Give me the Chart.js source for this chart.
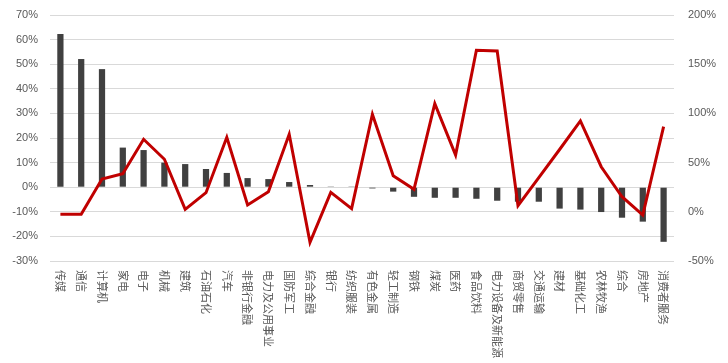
<!DOCTYPE html>
<html>
<head>
<meta charset="utf-8">
<script src="https://cdn.jsdelivr.net/npm/chart.js@4/dist/chart.umd.min.js"></script>
<style>
  html, body { margin: 0; padding: 0; background: #fff; }
  #wrap { width: 728px; height: 363px; }
</style>
</head>
<body>
<div id="wrap"><canvas id="chart" width="728" height="363"></canvas></div>
<script>
const CATEGORIES = [
  '传媒', '通信', '计算机', '家电', '电子', '机械', '建筑', '石油石化', '汽车', '非银行金融',
  '电力及公用事业', '国防军工', '综合金融', '银行', '纺织服装', '有色金属', '轻工制造', '钢铁', '煤炭', '医药',
  '食品饮料', '电力设备及新能源', '商贸零售', '交通运输', '建材', '基础化工', '农林牧渔', '综合', '房地产', '消费者服务',
];

// left axis, %
const BAR_VALUES = [
  62.3, 52.1, 48.0, 16.1, 15.1, 10.0, 9.4, 7.4, 5.8, 3.7,
  3.3, 2.1, 0.9, 0.1, 0.1, -0.5, -1.8, -3.9, -4.3, -4.3,
  -4.7, -5.5, -5.9, -5.9, -8.7, -9.1, -10.1, -12.4, -14.0, -22.2,
];

// right axis, %
const LINE_VALUES = [
  -2.5, -2.5, 33.3, 38.7, 73.7, 53.4, 2.5, 19.4, 75.7, 6.9,
  20.4, 78.8, -31.0, 19.8, 3.2, 99.1, 36.7, 22.9, 109.9, 57.7,
  164.1, 163.4, 6.2, 34.8, 63.3, 92.3, 45.8, 15.3, -3.3, 86.5,
];

const TEXT_COLOR = '#595959';
const FONT_FAMILY = '"Liberation Sans", "Noto Sans CJK SC", sans-serif';

// Excel-style labels: rotated clockwise, reading top to bottom
const verticalLabels = {
  id: 'verticalLabels',
  afterDraw(chart) {
    const scale = chart.scales.x;
    const ctx = chart.ctx;
    ctx.save();
    ctx.fillStyle = TEXT_COLOR;
    ctx.font = '11px "Noto Sans CJK SC", sans-serif';
    ctx.textAlign = 'left';
    ctx.textBaseline = 'middle';
    scale.ticks.forEach((t, i) => {
      const x = scale.getPixelForTick(i);
      ctx.save();
      ctx.translate(x, chart.chartArea.bottom + 9);
      ctx.rotate(Math.PI / 2);
      ctx.fillText(CATEGORIES[i], 0, 0);
      ctx.restore();
    });
    ctx.restore();
  },
};

new Chart(document.getElementById('chart').getContext('2d'), {
  type: 'bar',
  data: {
    labels: CATEGORIES,
    datasets: [
      {
        type: 'line',
        data: LINE_VALUES,
        yAxisID: 'y2',
        borderColor: '#C00000',
        borderWidth: 3,
        pointRadius: 0,
        tension: 0,
        fill: false,
        order: 0,
      },
      {
        type: 'bar',
        data: BAR_VALUES,
        yAxisID: 'y',
        backgroundColor: '#404040',
        barPercentage: 0.3,
        categoryPercentage: 1,
        order: 1,
      },
    ],
  },
  options: {
    responsive: false,
    animation: false,
    layout: { padding: { top: 15, bottom: 0, left: 0, right: 0 } },
    plugins: { legend: { display: false }, tooltip: { enabled: false } },
    scales: {
      x: {
        grid: { display: false },
        border: { display: false },
        ticks: {
          color: 'transparent',
          font: { size: 11, family: '"Noto Sans CJK SC", sans-serif' },
          minRotation: 90,
          maxRotation: 90,
          autoSkip: false,
          padding: 6,
        },
        afterFit(scale) { scale.height = 102; },
      },
      y: {
        position: 'left',
        min: -30,
        max: 70,
        grid: { color: '#d9d9d9', drawTicks: true, tickLength: 12, tickColor: 'transparent' },
        border: { display: false },
        ticks: {
          stepSize: 10,
          padding: 0,
          color: TEXT_COLOR,
          font: { size: 11, family: FONT_FAMILY },
          callback: (v) => v + '%',
        },
        afterFit(scale) { scale.width = 50; },
      },
      y2: {
        position: 'right',
        min: -50,
        max: 200,
        grid: { color: 'transparent', drawOnChartArea: false, drawTicks: true, tickLength: 14, tickColor: 'transparent' },
        border: { display: false },
        ticks: {
          stepSize: 50,
          padding: 0,
          color: TEXT_COLOR,
          font: { size: 11, family: FONT_FAMILY },
          callback: (v) => v + '%',
        },
        afterFit(scale) { scale.width = 54; },
      },
    },
  },
  plugins: [verticalLabels],
});
</script>
</body>
</html>
